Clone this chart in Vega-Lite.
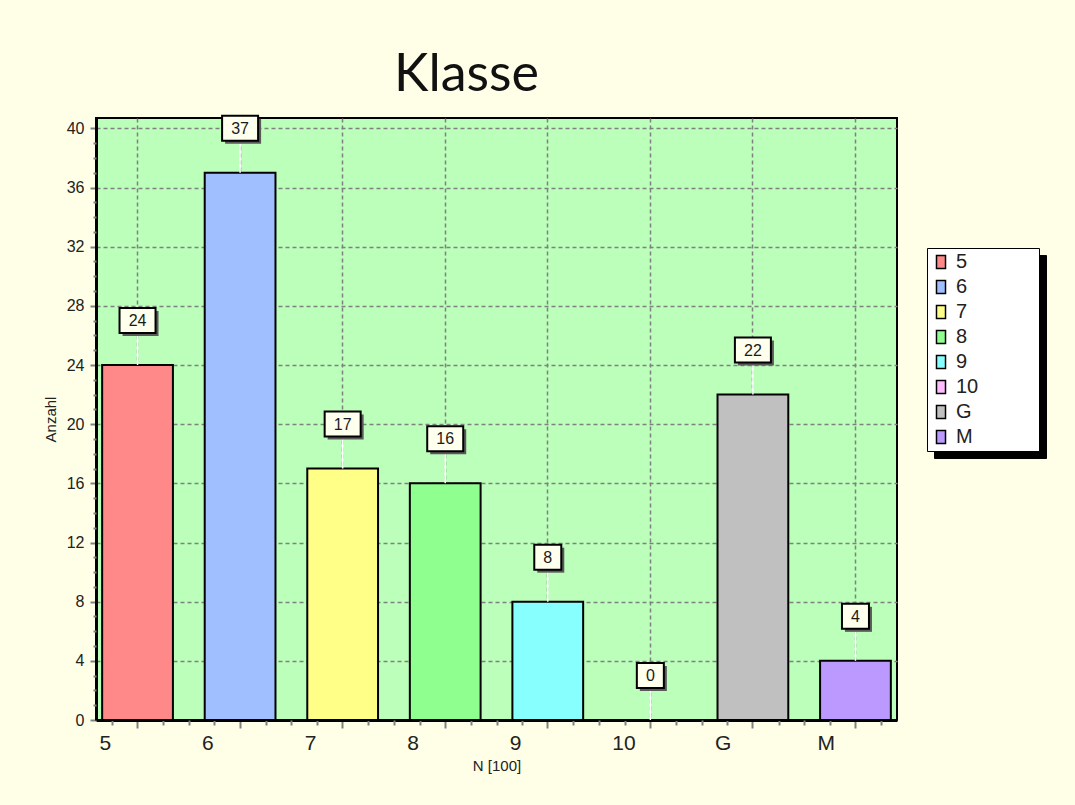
{
  "$schema": "https://vega.github.io/schema/vega-lite/v6.json",
  "autosize": {"type": "none"},
  "padding": {"left": 96, "top": 118, "right": 178, "bottom": 85},
  "width": 801,
  "height": 602,
  "background": "#FFFFE8",
  "title": {
    "text": "Klasse",
    "font": "Lato",
    "fontSize": 52,
    "fontWeight": "normal",
    "color": "#111111",
    "anchor": "middle",
    "frame": "group",
    "dx": -30,
    "dy": 54,
    "baseline": "alphabetic",
    "offset": 26
  },
  "data": {
    "values": [
      {"Klasse": "5", "Anzahl": 24},
      {"Klasse": "6", "Anzahl": 37},
      {"Klasse": "7", "Anzahl": 17},
      {"Klasse": "8", "Anzahl": 16},
      {"Klasse": "9", "Anzahl": 8},
      {"Klasse": "10", "Anzahl": 0},
      {"Klasse": "G", "Anzahl": 22},
      {"Klasse": "M", "Anzahl": 4}
    ]
  },
  "layer": [
    {
      "encoding": {
        "x": {
          "field": "Klasse",
          "type": "nominal",
          "sort": null,
          "scale": {"paddingInner": 0.31, "paddingOuter": 0.06},
          "axis": {
            "orient": "bottom",
            "title": "N [100]",
            "titleFontSize": 15,
            "titleFontWeight": "normal",
            "titlePadding": 5,
            "labelAngle": 0,
            "labelAlign": "left",
            "labelOffset": -38,
            "labelBaseline": "top",
            "labelFontSize": 21,
            "labelPadding": 4,
            "ticks": true,
            "tickSize": 8,
            "tickColor": "#808080",
            "tickWidth": 2,
            "domain": true,
            "domainColor": "black",
            "domainWidth": 3,
            "grid": true
          }
        },
        "y": {
          "field": "Anzahl",
          "type": "quantitative",
          "scale": {"domain": [0, 40.7], "nice": false},
          "axis": {
            "orient": "left",
            "title": "Anzahl",
            "titleFontSize": 15,
            "titleFontWeight": "normal",
            "titlePadding": 8,
            "values": [0, 4, 8, 12, 16, 20, 24, 28, 32, 36, 40],
            "labelFontSize": 16,
            "labelPadding": 6,
            "tickSize": 6,
            "tickColor": "#808080",
            "tickWidth": 2,
            "domain": true,
            "domainColor": "black",
            "domainWidth": 3,
            "grid": true
          }
        }
      },
      "layer": [
        {
          "mark": {"type": "bar", "stroke": "black", "strokeWidth": 2},
          "encoding": {
            "color": {
              "field": "Klasse",
              "type": "nominal",
              "scale": {
                "domain": ["5", "6", "7", "8", "9", "10", "G", "M"],
                "range": ["#FF8888", "#A0BFFF", "#FFFF88", "#8FFF8F", "#88FFFF", "#FFBBFF", "#C0C0C0", "#BB99FF"]
              },
              "legend": {
                "title": "MMMM",
                "titleOrient": "right",
                "titleOpacity": 0,
                "titleFont": "Liberation Sans",
                "titleFontSize": 17,
                "titlePadding": 0,
                "orient": "none",
                "legendX": 831,
                "legendY": 130,
                "direction": "vertical",
                "fillColor": "white",
                "strokeColor": "black",
                "padding": 4,
                "symbolType": "M-0.53,-0.76H0.53V0.76H-0.53Z",
                "symbolSize": 289,
                "symbolStrokeColor": "black",
                "symbolStrokeWidth": 1.5,
                "symbolOpacity": 1,
                "labelFont": "Liberation Sans",
                "labelFontSize": 20,
                "labelColor": "#222222",
                "labelOffset": 5,
                "rowPadding": 5,
                "zindex": 2
              }
            }
          }
        },
        {
          "mark": {"type": "rule", "color": "white", "strokeWidth": 1.5, "y2Offset": -32},
          "encoding": {"y2": {"field": "Anzahl"}}
        },
        {
          "transform": [{"filter": "datum.Anzahl >= 10"}],
          "mark": {"type": "bar", "width": 36, "color": "#5A5A5A", "xOffset": 3, "yOffset": -54, "y2Offset": -29},
          "encoding": {"y2": {"field": "Anzahl"}}
        },
        {
          "transform": [{"filter": "datum.Anzahl < 10"}],
          "mark": {"type": "bar", "width": 27, "color": "#5A5A5A", "xOffset": 3, "yOffset": -54, "y2Offset": -29},
          "encoding": {"y2": {"field": "Anzahl"}}
        },
        {
          "transform": [{"filter": "datum.Anzahl >= 10"}],
          "mark": {"type": "bar", "width": 36, "fill": "#FFFFEE", "stroke": "black", "strokeWidth": 2, "yOffset": -57, "y2Offset": -32},
          "encoding": {"y2": {"field": "Anzahl"}}
        },
        {
          "transform": [{"filter": "datum.Anzahl < 10"}],
          "mark": {"type": "bar", "width": 27, "fill": "#FFFFEE", "stroke": "black", "strokeWidth": 2, "yOffset": -57, "y2Offset": -32},
          "encoding": {"y2": {"field": "Anzahl"}}
        },
        {
          "mark": {"type": "text", "font": "Liberation Sans", "fontSize": 16, "color": "#1A1A1A", "baseline": "middle", "align": "center", "dy": -44},
          "encoding": {"text": {"field": "Anzahl", "type": "quantitative"}}
        },
        {
          "transform": [{"calculate": "datum.Klasse", "as": "K2"}],
          "mark": {"type": "point", "opacity": 0},
          "encoding": {
            "shape": {
              "field": "K2",
              "type": "nominal",
              "sort": null,
              "scale": {"range": ["M-0.53,-0.76H0.53V0.76H-0.53Z"]},
              "legend": {
                "title": "MMMM",
                "titleOrient": "right",
                "titleOpacity": 0,
                "titleFont": "Liberation Sans",
                "titleFontSize": 17,
                "titlePadding": 0,
                "orient": "none",
                "legendX": 838,
                "legendY": 137,
                "direction": "vertical",
                "fillColor": "black",
                "strokeColor": "black",
                "padding": 4,
                "symbolType": "M-0.53,-0.76H0.53V0.76H-0.53Z",
                "symbolSize": 289,
                "symbolFillColor": "black",
                "symbolStrokeColor": "black",
                "labelFont": "Liberation Sans",
                "labelFontSize": 20,
                "labelColor": "black",
                "labelOpacity": 0,
                "labelOffset": 5,
                "rowPadding": 5,
                "zindex": 1
              }
            }
          }
        }
      ]
    },
    {
      "mark": {"type": "point", "opacity": 0},
      "encoding": {
        "x": {
          "datum": 1,
          "type": "quantitative",
          "scale": {"domain": [0.595, 8.405], "nice": false, "zero": false},
          "axis": {
            "orient": "bottom",
            "title": null,
            "values": [0.75, 1.25, 1.5, 1.75, 2.25, 2.5, 2.75, 3.25, 3.5, 3.75, 4.25, 4.5, 4.75, 5.25, 5.5, 5.75, 6.25, 6.5, 6.75, 7.25, 7.5, 7.75, 8.25],
            "labels": false,
            "domain": false,
            "grid": false,
            "ticks": true,
            "tickSize": 5,
            "tickColor": "#808080",
            "tickWidth": 2
          }
        },
        "y": {
          "datum": 0,
          "type": "quantitative",
          "scale": {"domain": [0, 40.7], "nice": false},
          "axis": {
            "orient": "left",
            "title": null,
            "values": [1, 2, 3, 5, 6, 7, 9, 10, 11, 13, 14, 15, 17, 18, 19, 21, 22, 23, 25, 26, 27, 29, 30, 31, 33, 34, 35, 37, 38, 39],
            "labels": false,
            "domain": false,
            "grid": false,
            "ticks": true,
            "tickSize": 3,
            "tickColor": "#808080",
            "tickWidth": 2
          }
        }
      }
    }
  ],
  "resolve": {
    "scale": {"x": "independent", "y": "independent"},
    "axis": {"x": "independent", "y": "independent"}
  },
  "config": {
    "view": {"fill": "#BBFFBB", "stroke": "black", "strokeWidth": 2},
    "axis": {
      "labelFont": "Liberation Sans",
      "titleFont": "Liberation Sans",
      "labelColor": "#222222",
      "titleColor": "#222222",
      "gridColor": "#808080",
      "gridDash": [4, 3],
      "gridWidth": 1.5
    }
  }
}
